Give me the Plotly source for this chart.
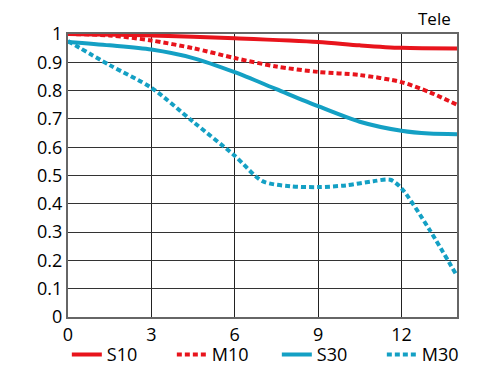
import plotly.graph_objects as go

x_s10 = [0, 3, 6, 9, 10.5, 12, 14]
y_s10 = [1.0, 0.995, 0.985, 0.972, 0.96, 0.951, 0.949]

x_m10 = [0, 1.5, 3, 4.5, 6, 7.5, 9, 10.5, 12, 13, 14]
y_m10 = [1.0, 0.995, 0.977, 0.95, 0.915, 0.885, 0.866, 0.855, 0.83, 0.795, 0.75]

x_s30 = [0, 1.5, 3, 4.5, 6, 7.5, 9, 10.5, 12, 13, 14]
y_s30 = [0.972, 0.96, 0.945, 0.915, 0.865, 0.805, 0.745, 0.69, 0.658, 0.648, 0.646]

x_m30 = [0, 1.5, 3, 4.5, 6, 7, 8, 9, 10, 11, 11.6, 12, 13, 14]
y_m30 = [0.975, 0.89, 0.81, 0.69, 0.57, 0.48, 0.462, 0.459, 0.465, 0.48, 0.485, 0.455, 0.31, 0.145]

RED = "#e8141c"
BLUE = "#14a0c4"

fig = go.Figure()
series = [
    ("S10", x_s10, y_s10, RED, "solid"),
    ("M10", x_m10, y_m10, RED, "5px,3px"),
    ("S30", x_s30, y_s30, BLUE, "solid"),
    ("M30", x_m30, y_m30, BLUE, "5px,3px"),
]
for name, xs, ys, col, dash in series:
    fig.add_trace(go.Scatter(x=xs, y=ys, name=name, mode="lines",
                             line=dict(color=col, width=4, dash=dash, shape="spline", smoothing=0.8)))

fig.update_layout(
    width=492, height=367,
    margin=dict(l=60, r=43, t=26, b=58, autoexpand=False),
    paper_bgcolor="white", plot_bgcolor="white",
    font=dict(family="Open Sans", size=18, color="black"),
    xaxis=dict(range=[0, 14], dtick=3, tick0=0, showgrid=True, gridcolor="#222", gridwidth=1,
               showline=True, linecolor="#666", linewidth=2, mirror=True, zeroline=False,
               ticks="", tickfont=dict(size=18)),
    yaxis=dict(range=[0, 1], dtick=0.1, tick0=0, showgrid=True, gridcolor="#333", gridwidth=1,
               showline=True, linecolor="#666", linewidth=2, mirror=True, zeroline=False,
               ticks="", tickfont=dict(size=18)),
    legend=dict(orientation="h", x=-0.003, y=-0.068, xanchor="left", yanchor="top",
                entrywidth=60, entrywidthmode="pixels", font=dict(size=18),
                bgcolor="rgba(0,0,0,0)", tracegroupgap=0, itemwidth=30),
    annotations=[dict(text="Tele", x=1.0, y=1.0, xref="paper", yref="paper",
                      xanchor="right", yanchor="bottom", yshift=2, xshift=-4, showarrow=False,
                      font=dict(size=17))],
)
fig.write_html("out.html")
